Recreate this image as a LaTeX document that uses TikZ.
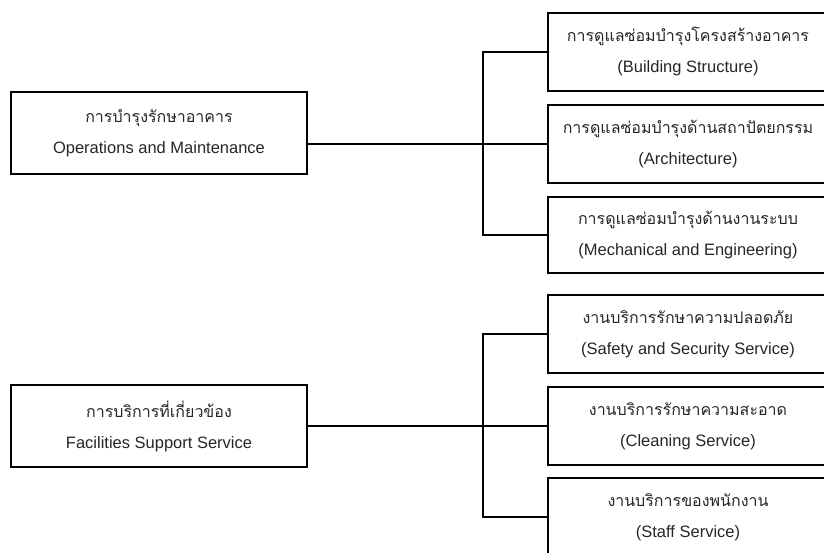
\documentclass[tikz,border=0pt]{standalone}
\usepackage{fontspec}
\setmainfont{Liberation Sans}
\newfontfamily\thaifont[Script=Thai]{Loma}
\definecolor{txt}{HTML}{262626}
\newcommand{\thline}[1]{{\thaifont\fontsize{16}{31}\selectfont #1}}
\tikzset{
  box/.style={draw=black, line width=1.8pt, rectangle, inner sep=0pt, align=center,
    text=txt, font=\fontsize{16.5}{31}\selectfont},
  leftbox/.style={box, minimum width=296pt, minimum height=82pt},
  rightbox/.style={box, minimum width=280pt, minimum height=78pt},
  link/.style={draw=black, line width=1.8pt},
}
\begin{document}
\begin{tikzpicture}[x=1pt, y=-1pt]
\useasboundingbox (0,0) rectangle (824,553);
\clip (0,0) rectangle (824,553);
\node[leftbox] (lb1) at (159,133) {\thline{การบำรุงรักษาอาคาร}\\Operations and Maintenance};
\node[leftbox] (lb2) at (159,426) {\thline{การบริการที่เกี่ยวข้อง}\\Facilities Support Service};
\node[rightbox] (rb1) at (688,52) {\thline{การดูแลซ่อมบำรุงโครงสร้างอาคาร}\\(Building Structure)};
\node[rightbox] (rb2) at (688,144) {\thline{การดูแลซ่อมบำรุงด้านสถาปัตยกรรม}\\(Architecture)};
\node[rightbox, minimum height=76pt] (rb3) at (688,235) {\thline{การดูแลซ่อมบำรุงด้านงานระบบ}\\(Mechanical and Engineering)};
\node[rightbox] (rb4) at (688,334) {\thline{งานบริการรักษาความปลอดภัย}\\(Safety and Security Service)};
\node[rightbox] (rb5) at (688,426) {\thline{งานบริการรักษาความสะอาด}\\(Cleaning Service)};
\node[rightbox] (rb6) at (688,517) {\thline{งานบริการของพนักงาน}\\(Staff Service)};
\coordinate (t) at (483,0);
\draw[link] (lb1.east |- rb2.west) -- (rb2.west);
\draw[link] (rb1.west) -- (rb1.west -| t) -- (rb3.west -| t) -- (rb3.west);
\draw[link] (lb2.east |- rb5.west) -- (rb5.west);
\draw[link] (rb4.west) -- (rb4.west -| t) -- (rb6.west -| t) -- (rb6.west);
\end{tikzpicture}
\end{document}
